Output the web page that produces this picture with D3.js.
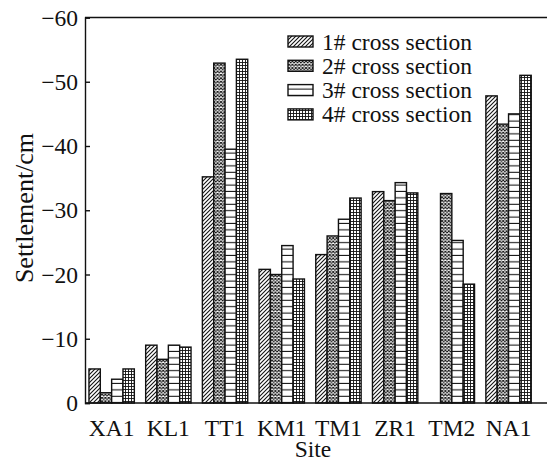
<!DOCTYPE html>
<html><head><meta charset="utf-8">
<script src="https://cdn.jsdelivr.net/npm/d3@7"></script>
<style>
html,body{margin:0;padding:0;background:#fff;}
svg{display:block;font-family:"Liberation Serif","Times New Roman",serif;}
</style></head>
<body>
<svg id="c" width="547" height="464"></svg>
<script>
const sites = ["XA1","KL1","TT1","KM1","TM1","ZR1","TM2","NA1"];
const seriesNames = ["1# cross section","2# cross section","3# cross section","4# cross section"];
const sec1 = [-5.3, -9.0, -35.2, -20.8, -23.1, -32.9, null, -47.8];
const sec2 = [-1.6, -6.8, -52.9, -20.0, -26.0, -31.5, -32.6, -43.4];
const sec3 = [-3.7, -9.0, -39.5, -24.5, -28.6, -34.3, -25.3, -45.0];
const sec4 = [-5.3, -8.7, -53.5, -19.3, -31.9, -32.7, -18.5, -51.0];
const yTicks = [0, -10, -20, -30, -40, -50, -60];
const allSeries = [sec1, sec2, sec3, sec4];

(function () {
const svg = d3.select("#c");
const mLeft = 85, mBottom = 403, mTop = 17.5;
const step = 56.7;
const FS = 23.5;
const x = d3.scaleBand().domain(sites)
  .range([mLeft, mLeft + step * (8 - 0.2 + 0.14)])
  .paddingInner(0.2).paddingOuter(0.07);
const xs = d3.scaleBand().domain(d3.range(4)).range([0, x.bandwidth()]);
const y = d3.scaleLinear().domain([0, -60]).range([mBottom, mTop]);

const defs = svg.append("defs");
function pat(id, w, h, draw) {
  const p = defs.append("pattern").attr("id", id).attr("patternUnits", "userSpaceOnUse")
    .attr("width", w).attr("height", h);
  p.append("rect").attr("width", w).attr("height", h).attr("fill", "#fff");
  draw(p);
}
pat("p1", 4, 4, p => {
  p.append("path").attr("d", "M-1,1 l2,-2 M0,4 l4,-4 M3,5 l2,-2")
    .attr("stroke", "#111").attr("stroke-width", 1.1);
});
pat("p2", 3.4, 3.4, p => {
  p.append("path").attr("d", "M0,0 L3.4,3.4 M3.4,0 L0,3.4")
    .attr("stroke", "#111").attr("stroke-width", 1.0);
});
pat("p3", 6.4, 6.4, p => {
  p.append("path").attr("d", "M0,5.9 H6.4").attr("stroke", "#111").attr("stroke-width", 1.1);
});
pat("p4", 3, 3, p => {
  p.append("path").attr("d", "M0,2.5 H3 M2.5,0 V3").attr("stroke", "#111").attr("stroke-width", 0.9);
});
const fills = ["url(#p1)", "url(#p2)", "url(#p3)", "url(#p4)"];

allSeries.forEach((arr, si) => {
  svg.append("g").selectAll("rect").data(sites.map((s, i) => ({s, v: arr[i]})).filter(d => d.v != null))
    .join("rect")
    .attr("x", d => x(d.s) + xs(si))
    .attr("y", d => y(d.v))
    .attr("width", xs.bandwidth())
    .attr("height", d => y(0) - y(d.v))
    .attr("fill", fills[si])
    .attr("stroke", "#111").attr("stroke-width", 1.4);
});

svg.append("line").attr("x1", mLeft).attr("x2", 547).attr("y1", y(0)).attr("y2", y(0))
  .attr("stroke", "#111").attr("stroke-width", 1.4);
svg.append("line").attr("x1", mLeft).attr("x2", 547).attr("y1", y(-60)).attr("y2", y(-60))
  .attr("stroke", "#111").attr("stroke-width", 1.4);
const yAxis = svg.append("g").attr("transform", `translate(${mLeft},0)`)
  .call(d3.axisLeft(y).tickValues(yTicks).tickSize(-5).tickPadding(7)
    .tickFormat(d => d === 0 ? "0" : "\u2212" + Math.abs(d)));
yAxis.select(".domain").attr("stroke", "#111").attr("stroke-width", 1.4);
yAxis.selectAll(".tick line").attr("stroke", "#111").attr("stroke-width", 1.4);
yAxis.selectAll("text").attr("font-size", FS).attr("fill", "#111")
  .attr("font-family", "Liberation Serif, serif");

svg.append("g").selectAll("text").data(sites).join("text")
  .attr("x", d => x(d) + x.bandwidth() / 2).attr("y", 436)
  .attr("text-anchor", "middle").attr("font-size", FS).attr("fill", "#111").text(d => d);

svg.append("text").attr("x", 313).attr("y", 457).attr("text-anchor", "middle")
  .attr("font-size", FS).attr("fill", "#111").text("Site");
svg.append("text").attr("transform", "translate(33,208) rotate(-90)")
  .attr("text-anchor", "middle").attr("font-size", 26).attr("fill", "#111").text("Settlement/cm");

const lg = svg.append("g");
seriesNames.forEach((n, i) => {
  const cy = 41.5 + i * 24.3;
  lg.append("rect").attr("x", 288).attr("y", cy - 5.5).attr("width", 25).attr("height", 11)
    .attr("fill", fills[i]).attr("stroke", "#111").attr("stroke-width", 1.4);
  lg.append("text").attr("x", 322).attr("y", cy + 8).attr("font-size", FS).attr("fill", "#111").text(n);
});
})();
</script>
</body></html>
